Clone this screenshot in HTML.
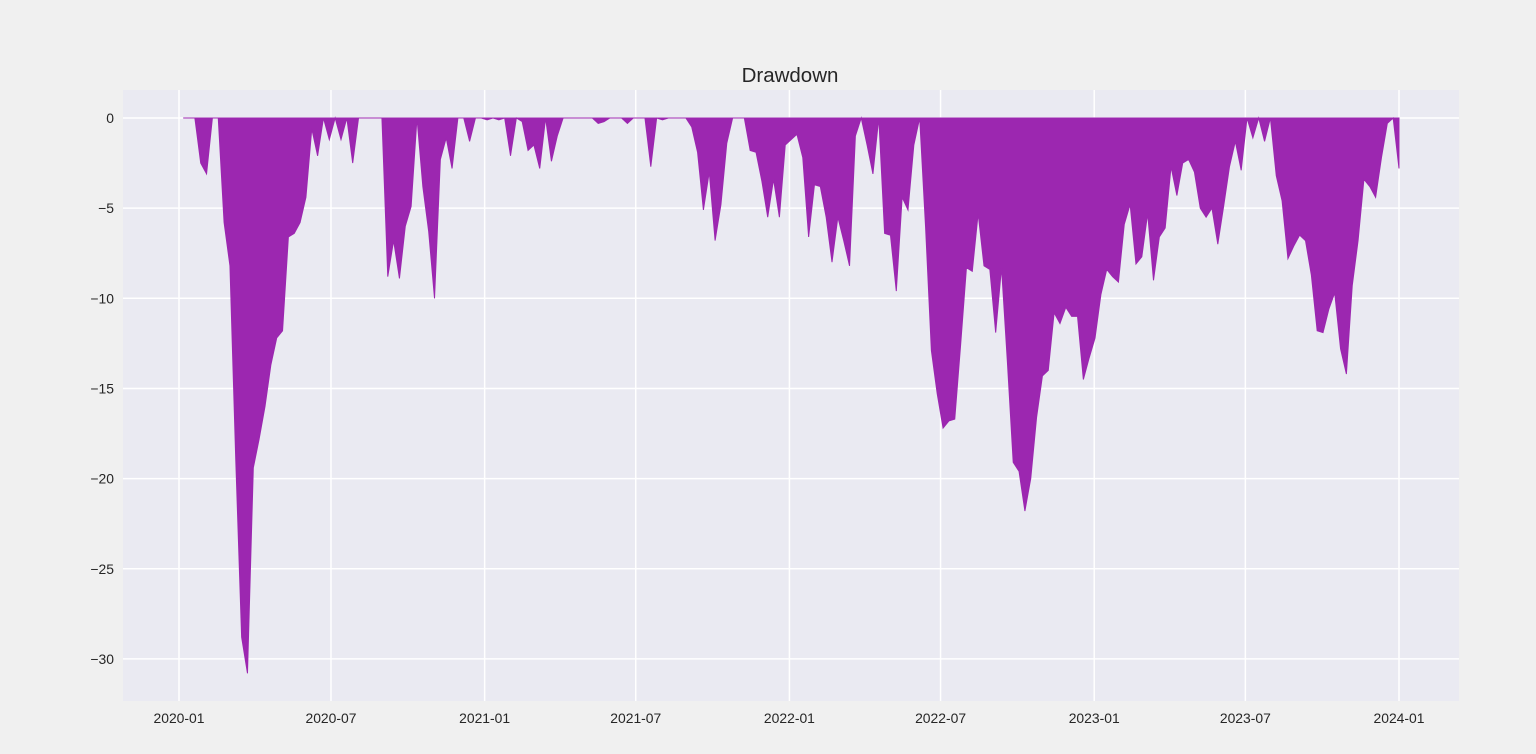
<!DOCTYPE html>
<html><head><meta charset="utf-8"><style>
html,body{margin:0;padding:0;background:#f0f0f0;}
svg{display:block;font-family:"Liberation Sans",sans-serif;}
</style></head><body>
<svg id="chart" width="1536" height="754" viewBox="0 0 1536 754">
<rect x="0" y="0" width="1536" height="754" fill="#f0f0f0"/>
<rect x="123" y="90" width="1336" height="611" fill="#eaeaf2"/>
<g id="grid"></g>
<g id="area"></g>
<g id="ticks"></g>
<text x="790" y="82" text-anchor="middle" font-size="20.5" fill="#262626">Drawdown</text>
</svg>
<script>
const startDate = "2020-01-06";
const drawdown = [
0,0,0,-2.5,-3.1,0,0,-5.8,-8.2,-19,
-28.8,-30.8,-19.4,-17.8,-16,-13.7,-12.2,-11.8,-6.6,-6.4,
-5.8,-4.4,-0.6,-2.1,0,-1.2,0,-1.2,0,-2.5,
0,0,0,0,0,-8.8,-6.8,-8.9,-6,-4.9,
0,-3.8,-6.3,-10,-2.3,-1.1,-2.8,0,0,-1.3,
0,0,-0.1,0,-0.1,0,-2.1,0,-0.2,-1.8,
-1.5,-2.8,0,-2.4,-1,0,0,0,0,0,
0,-0.3,-0.2,0,0,0,-0.3,0,0,0,
-2.7,0,-0.1,0,0,0,0,-0.5,-1.9,-5.1,
-3,-6.8,-4.8,-1.4,0,0,0,-1.8,-1.9,-3.5,
-5.5,-3.4,-5.5,-1.5,-1.2,-0.9,-2.2,-6.6,-3.7,-3.8,
-5.5,-8,-5.5,-6.8,-8.2,-1,0,-1.5,-3.1,0,
-6.4,-6.5,-9.6,-4.4,-5.1,-1.5,0,-6,-12.9,-15.3,
-17.2,-16.8,-16.7,-12.6,-8.3,-8.5,-5.3,-8.2,-8.4,-11.9,
-8.3,-13.5,-19.1,-19.6,-21.8,-20,-16.6,-14.3,-14,-10.8,
-11.4,-10.5,-11,-11,-14.5,-13.3,-12.2,-9.8,-8.4,-8.8,
-9.1,-5.9,-4.8,-8.1,-7.7,-5.3,-9,-6.6,-6.1,-2.7,
-4.3,-2.5,-2.3,-3,-5,-5.5,-5,-7,-4.9,-2.7,
-1.3,-2.9,0,-1.1,0,-1.3,0,-3.2,-4.6,-7.8,
-7.1,-6.5,-6.8,-8.7,-11.8,-11.9,-10.6,-9.7,-12.8,-14.2,
-9.3,-6.8,-3.4,-3.8,-4.4,-2.2,-0.3,0,-2.8
];
const xTickLabels = ["2020-01","2020-07","2021-01","2021-07","2022-01","2022-07","2023-01","2023-07","2024-01"];
const yTicks = [0,-5,-10,-15,-20,-25,-30];

const NS="http://www.w3.org/2000/svg";
const t0 = Date.UTC(2020,0,1), t1 = Date.UTC(2024,0,1);
function xScale(ms){ return 179 + (ms - t0)/(t1 - t0)*(1399-179); }
function yScale(v){ return 118 - v*18.03; }
function parse(s){ const p=s.split("-").map(Number); return Date.UTC(p[0],p[1]-1,p[2]||1); }

const grid=document.getElementById("grid"), ticks=document.getElementById("ticks"), area=document.getElementById("area");
xTickLabels.forEach(l=>{
  const x=xScale(parse(l));
  const ln=document.createElementNS(NS,"line");
  
  
  ln.setAttribute("x1",x);ln.setAttribute("x2",x);ln.setAttribute("y1",90);ln.setAttribute("y2",701);
  ln.setAttribute("stroke","#fff");ln.setAttribute("stroke-width","1.5");
  grid.appendChild(ln);
  const tx=document.createElementNS(NS,"text");
  
  
  tx.setAttribute("x",x);tx.setAttribute("y",723);tx.setAttribute("text-anchor","middle");
  tx.setAttribute("font-size","13.9");tx.setAttribute("fill","#262626");tx.textContent=l;
  ticks.appendChild(tx);
});
yTicks.forEach(v=>{
  const y=yScale(v);
  const ln=document.createElementNS(NS,"line");
  
  
  ln.setAttribute("x1",123);ln.setAttribute("x2",1459);ln.setAttribute("y1",y);ln.setAttribute("y2",y);
  ln.setAttribute("stroke","#fff");ln.setAttribute("stroke-width","1.5");
  grid.appendChild(ln);
  const tx=document.createElementNS(NS,"text");
  
  
  tx.setAttribute("x",114);tx.setAttribute("y",y+5);tx.setAttribute("text-anchor","end");
  tx.setAttribute("font-size","13.9");tx.setAttribute("fill","#262626");
  tx.textContent = v<0 ? "\u2212"+Math.abs(v) : String(v);
  ticks.appendChild(tx);
});
const s0=parse(startDate), week=7*86400000;
let d="";
drawdown.forEach((v,i)=>{ d += (i?"L":"M") + xScale(s0+i*week).toFixed(2)+","+yScale(v).toFixed(2); });
d += "L"+xScale(s0+(drawdown.length-1)*week).toFixed(2)+","+yScale(0)+"L"+xScale(s0).toFixed(2)+","+yScale(0)+"Z";
const p=document.createElementNS(NS,"path");


p.setAttribute("d",d);p.setAttribute("fill","#9c27b0");p.setAttribute("stroke","#9c27b0");p.setAttribute("stroke-width","1");
area.appendChild(p);
</script>
</body></html>
